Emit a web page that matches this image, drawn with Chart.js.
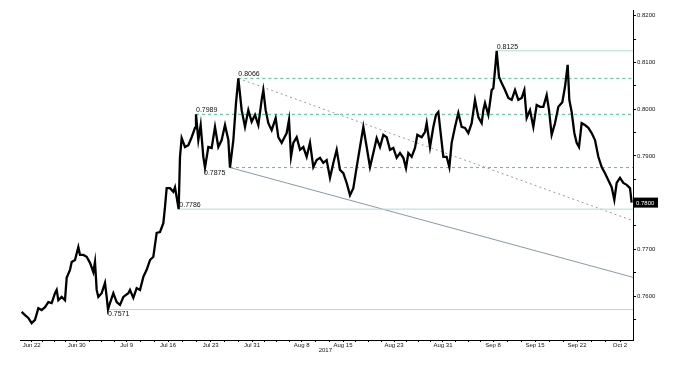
<!DOCTYPE html>
<html><head><meta charset="utf-8">
<script src="https://cdn.jsdelivr.net/npm/chart.js@4"></script>
<style>html,body{margin:0;padding:0;background:#fff}#w{width:674px;height:365px;position:relative}</style>
</head><body><div id="w"><canvas id="c"></canvas></div>
<script>
// time axis: trading-hour index since start of window
const priceT = [
5,15,25,35,45,55,65,75,85,95,
105,110,115,125,135,140,150,155,165,175,
180,190,200,210,220,225,230,235,245,255,
260,264,270,280,290,300,310,325,330,340,
350,360,370,380,390,400,410,420,430,435,
440,450,460,465,476,480,485,495,505,515,
525,528,535,542,550,555,565,575,585,595,
605,615,625,630,640,648,655,665,675,685,
695,705,715,725,730,737,745,755,767,775,
785,800,807,813,820,830,840,850,860,870,
880,890,900,910,920,930,940,950,960,970,
980,990,1000,1010,1020,1030,1040,1050,1060,1070,
1080,1090,1100,1110,1120,1130,1140,1150,1158,1165,
1175,1185,1192,1205,1215,1220,1230,1240,1248,1255,
1262,1270,1280,1288,1295,1305,1315,1325,1335,1345,
1355,1365,1375,1385,1390,1395,1405,1415,1420,1427,
1430,1437,1445,1455,1465,1475,1485,1495,1505,1513,
1520,1530,1540,1550,1560,1570,1580,1587,1595,1605,
1615,1627,1635,1643,1648,1655,1663,1670,1677,1685,
1695,1705,1715,1725,1735,1745,1755,1765,1775,1783,
1790,1800,1810,1820,1830,1835];
const priceV = [
0.7566,0.7559,0.7553,0.7542,0.7549,0.7574,0.7570,0.7576,0.7587,0.7585,
0.7606,0.7613,0.7591,0.7598,0.7591,0.7639,0.7656,0.7673,0.7677,0.7705,
0.7688,0.7688,0.7684,0.7671,0.7651,0.7673,0.7613,0.7598,0.7606,0.7628,
0.7598,0.7571,0.7585,0.7606,0.7587,0.7581,0.7598,0.7606,0.7613,0.7596,
0.7617,0.7613,0.7641,0.7656,0.7677,0.7684,0.7735,0.7737,0.7756,0.7791,
0.7831,0.7831,0.7823,0.7833,0.7786,0.7898,0.7938,0.7919,0.7923,0.7940,
0.7960,0.7989,0.7934,0.7966,0.7898,0.7875,0.7919,0.7917,0.7962,0.7919,
0.7934,0.7966,0.7934,0.7875,0.7934,0.8013,0.8066,0.7998,0.7962,0.7998,
0.7973,0.7988,0.7966,0.8020,0.8041,0.7998,0.7970,0.7955,0.7981,0.7940,
0.7928,0.7949,0.7977,0.7898,0.7928,0.7940,0.7913,0.7919,0.7898,0.7928,
0.7876,0.7891,0.7896,0.7885,0.7891,0.7853,0.7885,0.7913,0.7870,0.7863,
0.7842,0.7816,0.7831,0.7876,0.7919,0.7962,0.7919,0.7876,0.7906,0.7938,
0.7919,0.7945,0.7940,0.7913,0.7917,0.7896,0.7906,0.7896,0.7874,0.7906,
0.7898,0.7917,0.7945,0.7940,0.7951,0.7970,0.7919,0.7962,0.7988,0.7994,
0.7949,0.7898,0.7898,0.7876,0.7928,0.7962,0.7992,0.7962,0.7960,0.7949,
0.7970,0.8020,0.7983,0.7970,0.7998,0.8013,0.7988,0.8041,0.8045,0.8099,
0.8125,0.8069,0.8056,0.8041,0.8024,0.8020,0.8041,0.8020,0.8024,0.8041,
0.7981,0.7998,0.7962,0.8009,0.8005,0.8005,0.8030,0.7998,0.7945,0.7970,
0.8005,0.8015,0.8048,0.8095,0.8020,0.7994,0.7949,0.7928,0.7919,0.7970,
0.7966,0.7960,0.7949,0.7934,0.7898,0.7876,0.7863,0.7848,0.7833,0.7806,
0.7842,0.7853,0.7842,0.7838,0.7831,0.7800];

const dateLabels = ['Jun 22','Jun 30','Jul 9','Jul 16','Jul 23','Jul 31','Aug 8','Aug 15','Aug 23','Aug 31','Sep 8','Sep 15','Sep 22','Oct 2'];
const dateT = [35,170,320,444,572,696,845,969,1122,1269,1419,1545,1671,1800];
const yearLabel = '2017';

const levelValues = [0.8125, 0.8066, 0.7989, 0.7875, 0.7786, 0.7571];
const levelStartT = [1430, 655, 528, 630, 476, 264];
const levelLabelT = [1430, 655, 528, 552, 478, 264];
const levelText = ['0.8125','0.8066','0.7989','0.7875','0.7786','0.7571'];

const upperTrendT = [655, 1836];
const upperTrendV = [0.8066, 0.7762];
const lowerTrendT = [630, 1839];
const lowerTrendV = [0.7875, 0.7640];

const yTickValues = [0.755,0.760,0.765,0.770,0.775,0.780,0.785,0.790,0.795,0.800,0.805,0.810,0.815,0.820];
const lastPrice = 0.7800;

const X_MIN = 0, X_MAX = 1839, Y_MIN = 0.75058, Y_MAX = 0.82124;

// style config (kept out of the data arrays)
const dashedLevel = [false, true, true, true, false, false];
const labelBelow = [false, false, false, true, false, true];

const datasets = [];
datasets.push({
  label: 'price', data: priceT.map((t, i) => ({x: t, y: priceV[i]})),
  borderColor: '#000', borderWidth: 2.3, pointRadius: 0, tension: 0, order: 0
});
levelValues.forEach((v, i) => {
  datasets.push({
    data: [{x: levelStartT[i], y: v}, {x: X_MAX, y: v}],
    borderColor: dashedLevel[i] ? '#4cc09c' : '#b0dcd2',
    borderDash: dashedLevel[i] ? [3, 3] : [],
    borderWidth: 1, pointRadius: 0, order: 2
  });
});
datasets.push({
  data: upperTrendT.map((t, i) => ({x: t, y: upperTrendV[i]})),
  borderColor: '#9a9a9a', borderDash: [2, 3], borderWidth: 1, pointRadius: 0, order: 2
});
datasets.push({
  data: lowerTrendT.map((t, i) => ({x: t, y: lowerTrendV[i]})),
  borderColor: '#8a98a6', borderWidth: 1, pointRadius: 0, order: 2
});

// minor x ticks between labelled dates
function xTickList() {
  const out = [];
  const pts = [0].concat(dateT, [X_MAX]);
  for (let k = 0; k < pts.length - 1; k++) {
    const a = pts[k], b = pts[k + 1];
    if (k > 0) out.push(a);
    const n = Math.max(1, Math.round((b - a) / 38));
    for (let j = 1; j < n; j++) out.push(a + (b - a) * j / n);
  }
  return out;
}

const annot = {
  id: 'annot',
  afterDatasetsDraw(chart) {
    const ctx = chart.ctx, xs = chart.scales.x, ys = chart.scales.y;
    ctx.save();
    ctx.font = '7px "Liberation Sans", Arial, sans-serif';
    ctx.fillStyle = '#111';
    levelValues.forEach((v, i) => {
      const px = xs.getPixelForValue(levelLabelT[i]);
      const py = ys.getPixelForValue(v);
      if (labelBelow[i]) { ctx.textBaseline = 'top'; ctx.fillText(levelText[i], px, py + 1.5); }
      else { ctx.textBaseline = 'bottom'; ctx.fillText(levelText[i], px, py - 0.5); }
    });
    // year label
    ctx.font = '6px "Liberation Sans", Arial, sans-serif';
    ctx.textAlign = 'center'; ctx.textBaseline = 'middle';
    ctx.fillText(yearLabel, (xs.getPixelForValue(969) + xs.getPixelForValue(845)) / 2 + 3, 350);
    // last price box
    const py = ys.getPixelForValue(lastPrice);
    ctx.fillStyle = '#000';
    ctx.fillRect(xs.right + 1, py - 5, 24, 10);
    ctx.fillStyle = '#fff';
    ctx.textAlign = 'left';
    ctx.fillText(lastPrice.toFixed(4), xs.right + 3, py + 0.5);
    ctx.restore();
  }
};

new Chart(document.getElementById('c'), {
  type: 'line',
  data: { datasets },
  options: {
    animation: false, responsive: true, maintainAspectRatio: false,
    layout: { padding: { left: 20, top: 10, right: 0, bottom: 0 } },
    plugins: { legend: { display: false }, tooltip: { enabled: false } },
    scales: {
      x: {
        type: 'linear', min: X_MIN, max: X_MAX,
        afterFit(s) { s.height = 25; },
        afterBuildTicks(s) { s.ticks = xTickList().map(v => ({value: v})); },
        ticks: {
          autoSkip: false, maxRotation: 0, minRotation: 0, padding: 0,
          color: '#111', font: { family: '"Liberation Sans", Arial, sans-serif', size: 6 },
          callback(v) { const i = dateT.indexOf(v); return i >= 0 ? dateLabels[i] : ''; }
        },
        grid: { drawOnChartArea: false, drawTicks: true, tickLength: 2, color: '#000' },
        border: { display: true, color: '#000', width: 1 }
      },
      y: {
        type: 'linear', position: 'right', min: Y_MIN, max: Y_MAX,
        afterFit(s) { s.width = 41; },
        afterBuildTicks(s) { s.ticks = yTickValues.map(v => ({value: v})); },
        ticks: {
          autoSkip: false, padding: 1,
          color: '#111', font: { family: '"Liberation Sans", Arial, sans-serif', size: 6 },
          callback(v) {
            const r = Math.round(v * 1000);
            if (r % 10 !== 0) return '';
            if (Math.abs(v - lastPrice) < 1e-6) return '';
            return v.toFixed(4);
          }
        },
        grid: { drawOnChartArea: false, drawTicks: true, tickLength: 3, color: '#000' },
        border: { display: true, color: '#000', width: 1 }
      }
    }
  },
  plugins: [annot]
});
</script>
</body></html>
